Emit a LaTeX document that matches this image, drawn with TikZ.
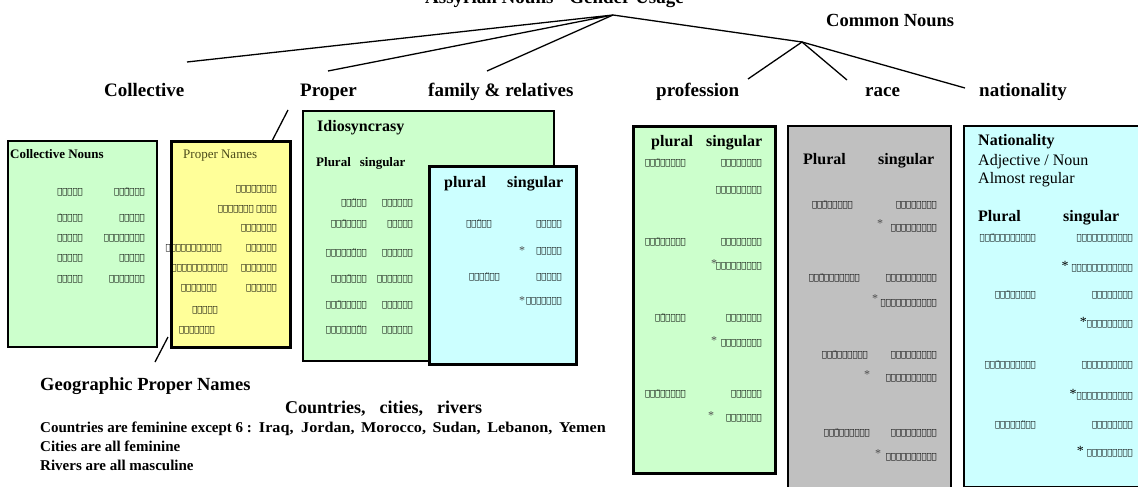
\documentclass[tikz,border=0pt]{standalone}
\usepackage{fontspec}
\usepackage{graphicx}
\setmainfont{Liberation Serif}
\TeXXeTstate=1
\newfontfamily\syrf{DejaVu Sans}
\newcommand{\sy}[1]{{\syrf\beginR #1\endR}}
\definecolor{lgreen}{HTML}{CCFFCC}
\definecolor{lyellow}{HTML}{FFFF99}
\definecolor{lcyan}{HTML}{CCFFFF}
\definecolor{lgray}{HTML}{C0C0C0}
\definecolor{olivetxt}{HTML}{4A4A1A}
\tikzset{
  tree/.style={line width=1.3pt},
  panel/.style={draw=black, line width=2pt, anchor=north west, inner sep=0pt},
  toplbl/.style={font=\fontsize{19}{19}\selectfont\bfseries, anchor=base west, inner sep=0pt},
  hdr/.style={font=\fontsize{16}{16}\selectfont\bfseries, anchor=base west, inner sep=0pt},
  reg/.style={font=\fontsize{16}{16}\selectfont, anchor=base west, inner sep=0pt},
  small/.style={font=\fontsize{13}{13}\selectfont\bfseries, anchor=base west, inner sep=0pt},
  syr/.style={font=\fontsize{8.5}{8.5}\selectfont, anchor=east, inner sep=0pt},
  star/.style={font=\fontsize{12}{12}\selectfont, text=black!70, inner sep=0pt},
  bottom/.style={font=\fontsize{15}{15}\selectfont\bfseries, anchor=base west, inner sep=0pt}
}
\newcommand{\sw}[4]{\node[syr] (#1) at (#2,#3) {\sy{#4}};}
\begin{document}
\begin{tikzpicture}[x=1pt,y=-1pt]
\useasboundingbox (0,0) rectangle (1138,487);
\fill[white] (0,0) rectangle (1138,487);

% title (cut at the top edge, as in the reference)
\node[font=\fontsize{19}{19}\selectfont\bfseries, anchor=base west, inner sep=0pt] (title) at (425,4) {Assyrian Nouns - Gender Usage};

% tree
\coordinate (root) at (613,15);
\coordinate (cnj) at (802,42);
\coordinate (eColl) at (187,62);
\coordinate (eProp) at (328,71);
\coordinate (eFam) at (487,71);
\coordinate (eProf) at (748,79);
\coordinate (eRace) at (847,80);
\coordinate (eNat) at (965,88);
\draw[tree] (eColl) -- (root) -- (eProp);
\draw[tree] (root) -- (eFam);
\draw[tree] (root) -- (cnj);
\draw[tree] (eProf) -- (cnj) -- (eRace);
\draw[tree] (cnj) -- (eNat);

\node[font=\fontsize{18.5}{18.5}\selectfont\bfseries, anchor=base west, inner sep=0pt] (common) at (826,27) {Common Nouns};
\node[toplbl] (lColl) at (104,96) {Collective};
\node[toplbl] (lProp) at (300,96) {Proper};
\node[toplbl] (lFam) at (428,96) {family \& relatives};
\node[toplbl] (lProf) at (656,96) {profession};
\node[toplbl] (lRace) at (865,96) {race};
\node[toplbl] (lNat) at (979,96) {nationality};

% panels
\node[panel, fill=lgreen, line width=1.6pt, minimum width=149pt, minimum height=206pt] (collbox) at (7,140) {};
\node[panel, fill=lyellow, line width=3pt, minimum width=119pt, minimum height=206pt] (propbox) at (170,140) {};
\node[panel, fill=lgreen, minimum width=251pt, minimum height=250pt] (idiobox) at (302,110) {};
\node[panel, fill=lcyan, line width=3pt, minimum width=147pt, minimum height=198pt] (fambox) at (428,165) {};
\node[panel, fill=lgreen, line width=2.5pt, minimum width=142pt, minimum height=347pt] (profbox) at (632,125) {};
\node[panel, fill=lgray, minimum width=163pt, minimum height=370pt] (racebox) at (787,125) {};
\node[panel, fill=lcyan, minimum width=190pt, minimum height=361pt] (natbox) at (963,125) {};

% connectors to proper names box and geographic names
\coordinate (pTop) at (288,110);
\coordinate (pBot) at (272,141);
\draw[line width=1.3pt] (pTop) -- (pBot);
\coordinate (gTop) at (168,337);
\coordinate (gBot) at (155,362);
\draw[line width=1.3pt] (gTop) -- (gBot);

% Collective nouns
\node[small] (collT) at (10,158) {Collective Nouns};
\sw{c1r}{145}{192}{ܢܘܼܢܹ̈ܐ} \sw{c1l}{83}{192}{ܝܼܠܹܗ}
\sw{c2r}{145}{218}{ܥܲܡܵܐ} \sw{c2l}{83}{218}{ܝܼܠܵܗ̇}
\sw{c3r}{145}{238}{ܟܢܘܼܫܝܵܐ} \sw{c3l}{83}{238}{ܝܼܠܹܗ}
\sw{c4r}{145}{258}{ܥܸܢܵܐ} \sw{c4l}{83}{258}{ܝܼܠܹܗ}
\sw{c5r}{145}{279}{ܐܘܼܡܬܵܐ} \sw{c5l}{83}{279}{ܝܼܠܹܗ}

% Proper names
\node[font=\fontsize{13}{13}\selectfont, text=olivetxt, anchor=base west, inner sep=0pt] (propT) at (183,158) {Proper Names};
\sw{p1r}{277}{189}{ܫܲܡܝܼܪܵܡ}
\sw{p2r}{277}{209}{ܒܝܼܬ ܢܲܗܪܝܼܢ}
\sw{p3r}{277}{228}{ܫܲܡܫܘܿܢ}
\sw{p4r}{277}{248}{ܐܵܫܘܿܪ}
\sw{p5r}{277}{268}{ܢܝܼܢܘܹܐ}
\sw{p6r}{277}{288}{ܢܲܪܣܲܝ}
\sw{p1l}{222}{248}{ܐܲܬܘܿܪܵܝܬܵܐ}
\sw{p2l}{228}{268}{ܫܲܡܝܼܪܵܡܝܼܬ}
\sw{p3l}{217}{288}{ܣܲܪܓܘܿܢ}
\sw{p4l}{218}{310}{ܚܲܘܵܐ}
\sw{p5l}{215}{330}{ܐܲܣܬܝܼܪ}

% Idiosyncrasy
\node[hdr] (idT) at (317,131) {Idiosyncrasy};
\node[small] (idH) at (316,166) {Plural\hspace{9pt}singular};
\sw{i1r}{413}{203}{ܒܲܝܬܵܐ} \sw{i1l}{367}{203}{ܒܵܬܹ̈ܐ}
\sw{i2r}{413}{224}{ܫܸܡܵܐ} \sw{i2l}{367}{224}{ܫܸܡܵܗܹ̈ܐ}
\sw{i3r}{413}{253}{ܐܲܪܥܵܐ} \sw{i3l}{367}{253}{ܐܲܪ̈ܥܵܬܵܐ}
\sw{i4r}{413}{279}{ܩܲܪܝܬܵܐ} \sw{i4l}{367}{279}{ܩܘܼܪ̈ܝܵܐ}
\sw{i5r}{413}{305}{ܝܘܿܡܵܐ} \sw{i5l}{367}{305}{ܝܘܿܡܵܢܹ̈ܐ}
\sw{i6r}{413}{330}{ܐܝܼܕܵܐ} \sw{i6l}{367}{330}{ܐܝܼ̈ܕܵܬܵܐ}

% family & relatives
\node[hdr] (famP) at (444,187) {plural};
\node[hdr] (famS) at (507,187) {singular};
\sw{f1r}{562}{224}{ܒܵܒܵܐ} \sw{f1l}{492}{224}{ܒܵܒܹ̈ܐ}
\sw{f2r}{562}{251}{ܝܸܡܵܐ} \node[star] (f2s) at (522,251) {*};
\sw{f3r}{562}{277}{ܚܲܡܵܐ} \sw{f3l}{500}{277}{ܚܲܡ̈ܘܵܐ}
\sw{f4r}{562}{301}{ܚܲܡܵܬܵܐ} \node[star] (f4s) at (522,301) {*};

% profession
\node[hdr] (prP) at (651,146) {plural};
\node[hdr] (prS) at (706,146) {singular};
\sw{r1r}{762}{163}{ܡܲܠܦܵܢܵܐ} \sw{r1l}{686}{163}{ܡܲܠܦܵܢܹ̈ܐ}
\sw{r2r}{762}{190}{ܡܲܠܦܵܢܬܵܐ}
\sw{r3r}{762}{242}{ܟܵܬܘܿܒܵܐ} \sw{r3l}{686}{242}{ܟܵܬܘܿܒܹ̈ܐ}
\sw{r4r}{762}{266}{ܟܵܬܘܿܒܬܵܐ} \node[star] (r4s) at (714,264) {*};
\sw{r5r}{762}{318}{ܙܲܡܵܪܵܐ} \sw{r5l}{686}{318}{ܙܲܡܵܪ̈ܐ}
\sw{r6r}{762}{343}{ܙܲܡܵܪܬܵܐ} \node[star] (r6s) at (714,341) {*};
\sw{r7r}{762}{394}{ܐܵܣܝܵܐ} \sw{r7l}{686}{394}{ܐܵܣܘܵܬܹ̈ܐ}
\sw{r8r}{762}{418}{ܐܵܣܝܬܵܐ} \node[star] (r8s) at (711,416) {*};

% race
\node[hdr] (raP) at (803,164) {Plural};
\node[hdr] (raS) at (878,164) {singular};
\sw{a1r}{937}{205}{ܗܘܼܕܵܝܵܐ} \sw{a1l}{853}{205}{ܗܘܼܕܵܝܹ̈ܐ}
\sw{a2r}{937}{228}{ܗܘܼܕܵܝܬܵܐ} \node[star] (a2s) at (880,224) {*};
\sw{a3r}{937}{278}{ܐܵܬܘܿܪܵܝܵܐ} \sw{a3l}{860}{278}{ܐܵܬܘܿܪܵܝܹ̈ܐ}
\sw{a4r}{937}{303}{ܐܵܬܘܿܪܵܝܬܵܐ} \node[star] (a4s) at (875,299) {*};
\sw{a5r}{937}{355}{ܡܫܝܼܚܵܝܵܐ} \sw{a5l}{868}{355}{ܡܫܝܼܚܵܝܹ̈ܐ}
\sw{a6r}{937}{378}{ܡܫܝܼܚܵܝܬܵܐ} \node[star] (a6s) at (867,375) {*};
\sw{a7r}{937}{433}{ܟܘܼܪܕܵܝܵܐ} \sw{a7l}{870}{433}{ܟܘܼܪܕܵܝܹ̈ܐ}
\sw{a8r}{937}{457}{ܟܘܼܪܕܵܝܬܵܐ} \node[star] (a8s) at (878,454) {*};

% nationality
\node[hdr] (naT) at (978,145) {Nationality};
\node[reg] (naA) at (978,165) {Adjective / Noun};
\node[reg] (naB) at (978,183) {Almost regular};
\node[hdr] (naP) at (978,221) {Plural};
\node[hdr] (naS) at (1063,221) {singular};
\sw{n1r}{1133}{238}{ܐܲܡܪܝܼܟܵܝܵܐ} \sw{n1l}{1036}{238}{ܐܲܡܪܝܼܟܵܝܹ̈ܐ}
\node[syr] (n2r) at (1133,267) {{\fontsize{14}{14}\selectfont *}\hspace{3pt}\sy{ܐܲܡܪܝܼܟܵܝܬܵܐ}};
\sw{n3r}{1133}{295}{ܟܲܠܕܵܝܵܐ} \sw{n3l}{1036}{295}{ܟܲܠܕܵܝܹ̈ܐ}
\node[syr] (n4r) at (1133,323) {{\fontsize{14}{14}\selectfont *}\sy{ܟܲܠܕܵܝܬܵܐ}};
\sw{n5r}{1133}{365}{ܠܸܒܢܵܢܵܝܵܐ} \sw{n5l}{1036}{365}{ܠܸܒܢܵܢܵܝܹ̈ܐ}
\node[syr] (n6r) at (1133,395) {{\fontsize{14}{14}\selectfont *}\sy{ܠܸܒܢܵܢܵܝܬܵܐ}};
\sw{n7r}{1133}{425}{ܥܲܪܒܵܝܵܐ} \sw{n7l}{1036}{425}{ܥܲܪ̈ܒܵܝܹܐ}
\node[syr] (n8r) at (1133,452) {{\fontsize{14}{14}\selectfont *}\hspace{3pt}\sy{ܥܲܪܒܵܝܬܵܐ}};

% bottom text
\node[font=\fontsize{18.5}{18.5}\selectfont\bfseries, anchor=base west, inner sep=0pt] (geoT) at (40,390) {Geographic Proper Names};
\node[font=\fontsize{18}{18}\selectfont\bfseries, anchor=base west, inner sep=0pt] (geoS) at (285,413) {Countries,\hspace{14pt}cities,\hspace{14pt}rivers};
\node[bottom] (b1) at (40,432) {Countries are feminine except 6 :\hspace{7pt}\scalebox{1.08}[1]{\spaceskip=6pt Iraq,\hspace{7pt}Jordan, Morocco, Sudan, Lebanon, Yemen}};
\node[bottom] (b2) at (40,451) {Cities are all feminine};
\node[bottom] (b3) at (40,470) {Rivers are all masculine};
\end{tikzpicture}
\end{document}
